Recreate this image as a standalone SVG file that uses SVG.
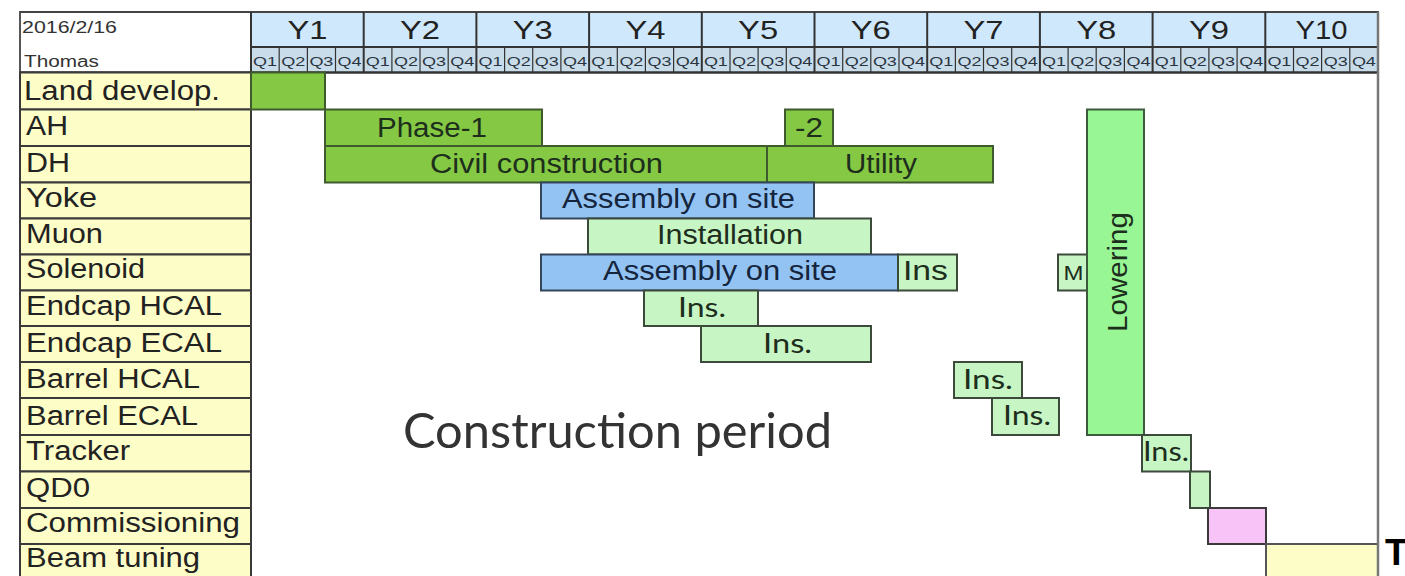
<svg xmlns="http://www.w3.org/2000/svg" width="1405" height="576" viewBox="0 0 1405 576">
  <style>
    .lbl { font-family: "Liberation Sans", Arial, sans-serif; font-size: 27px; fill: #222; }
    .bar-t { font-family: "Liberation Sans", Arial, sans-serif; font-size: 27px; fill: #1d2e1d; text-anchor: middle; }
    .ins-t { font-family: Lato, "Open Sans", sans-serif; font-size: 27px; fill: #1d2e1d; text-anchor: middle; }
    .blue-t { fill: #15253d; }
    .yr { font-family: "Liberation Sans", Arial, sans-serif; font-size: 26px; fill: #222; text-anchor: middle; }
    .qt { font-family: "Liberation Sans", Arial, sans-serif; font-size: 12px; fill: #2a3440; text-anchor: middle; }
    .hdr { font-family: "Liberation Sans", Arial, sans-serif; font-size: 16px; fill: #333; }
    .cell { fill: #fdfdc8; stroke: #3a3a3a; stroke-width: 2; }
    .dk { fill: #84c843; stroke: #3f5a2e; stroke-width: 2; }
    .bl { fill: #93c3f3; stroke: #34465a; stroke-width: 2; }
    .lg { fill: #c8f5c4; stroke: #3c4a3c; stroke-width: 2; }
    .lw { fill: #98f794; stroke: #3c5a3c; stroke-width: 2; }
    .pk { fill: #f8c4f8; stroke: #3a3a3a; stroke-width: 2; }
    .yl { fill: #fdfdc8; stroke: #555; stroke-width: 2; }
    .qline { stroke: #333; stroke-width: 1.2; }
    .yline { stroke: #333; stroke-width: 2; }
  </style>

  <rect x="0" y="0" width="1405" height="576" fill="#ffffff"/>

  <!-- chart frame -->
  <g id="frame">
    <rect x="20" y="12" width="1358" height="570" fill="#ffffff" stroke="#555" stroke-width="2"/>
    <rect x="251" y="12" width="1127" height="35" fill="#cfe8fb"/>
    <rect x="251" y="47" width="1127" height="25" fill="#c8dcea"/>
    <line x1="251" y1="47" x2="1378" y2="47" class="yline"/>
    <line x1="20" y1="72.5" x2="1378" y2="72.5" stroke="#333" stroke-width="2.5"/>
    <line x1="20" y1="12" x2="1378" y2="12" stroke="#444" stroke-width="2"/>
  </g>

  <!-- header: date, author, years, quarters -->
  <g id="header">
    <text class="hdr" x="22" y="33" textLength="95" lengthAdjust="spacingAndGlyphs">2016/2/16</text>
    <text class="hdr" x="24" y="67" textLength="75" lengthAdjust="spacingAndGlyphs">Thomas</text>

    <g id="year-lines">
      <line x1="251" y1="12" x2="251" y2="72" class="yline"/>
      <line x1="363.7" y1="12" x2="363.7" y2="72" class="yline"/>
      <line x1="476.4" y1="12" x2="476.4" y2="72" class="yline"/>
      <line x1="589.1" y1="12" x2="589.1" y2="72" class="yline"/>
      <line x1="701.8" y1="12" x2="701.8" y2="72" class="yline"/>
      <line x1="814.5" y1="12" x2="814.5" y2="72" class="yline"/>
      <line x1="927.2" y1="12" x2="927.2" y2="72" class="yline"/>
      <line x1="1039.9" y1="12" x2="1039.9" y2="72" class="yline"/>
      <line x1="1152.6" y1="12" x2="1152.6" y2="72" class="yline"/>
      <line x1="1265.3" y1="12" x2="1265.3" y2="72" class="yline"/>
    </g>
    <g id="quarter-lines">
      <line x1="279.2" y1="47" x2="279.2" y2="72" class="qline"/>
      <line x1="307.4" y1="47" x2="307.4" y2="72" class="qline"/>
      <line x1="335.5" y1="47" x2="335.5" y2="72" class="qline"/>
      <line x1="391.9" y1="47" x2="391.9" y2="72" class="qline"/>
      <line x1="420.0" y1="47" x2="420.0" y2="72" class="qline"/>
      <line x1="448.2" y1="47" x2="448.2" y2="72" class="qline"/>
      <line x1="504.6" y1="47" x2="504.6" y2="72" class="qline"/>
      <line x1="532.7" y1="47" x2="532.7" y2="72" class="qline"/>
      <line x1="560.9" y1="47" x2="560.9" y2="72" class="qline"/>
      <line x1="617.3" y1="47" x2="617.3" y2="72" class="qline"/>
      <line x1="645.4" y1="47" x2="645.4" y2="72" class="qline"/>
      <line x1="673.6" y1="47" x2="673.6" y2="72" class="qline"/>
      <line x1="730.0" y1="47" x2="730.0" y2="72" class="qline"/>
      <line x1="758.1" y1="47" x2="758.1" y2="72" class="qline"/>
      <line x1="786.3" y1="47" x2="786.3" y2="72" class="qline"/>
      <line x1="842.7" y1="47" x2="842.7" y2="72" class="qline"/>
      <line x1="870.8" y1="47" x2="870.8" y2="72" class="qline"/>
      <line x1="899.0" y1="47" x2="899.0" y2="72" class="qline"/>
      <line x1="955.4" y1="47" x2="955.4" y2="72" class="qline"/>
      <line x1="983.5" y1="47" x2="983.5" y2="72" class="qline"/>
      <line x1="1011.7" y1="47" x2="1011.7" y2="72" class="qline"/>
      <line x1="1068.1" y1="47" x2="1068.1" y2="72" class="qline"/>
      <line x1="1096.2" y1="47" x2="1096.2" y2="72" class="qline"/>
      <line x1="1124.4" y1="47" x2="1124.4" y2="72" class="qline"/>
      <line x1="1180.8" y1="47" x2="1180.8" y2="72" class="qline"/>
      <line x1="1208.9" y1="47" x2="1208.9" y2="72" class="qline"/>
      <line x1="1237.1" y1="47" x2="1237.1" y2="72" class="qline"/>
      <line x1="1293.5" y1="47" x2="1293.5" y2="72" class="qline"/>
      <line x1="1321.6" y1="47" x2="1321.6" y2="72" class="qline"/>
      <line x1="1349.8" y1="47" x2="1349.8" y2="72" class="qline"/>
    </g>

    <g id="years">
      <text class="yr" x="307.4" y="39" textLength="40" lengthAdjust="spacingAndGlyphs">Y1</text>
      <text class="yr" x="420.0" y="39" textLength="40" lengthAdjust="spacingAndGlyphs">Y2</text>
      <text class="yr" x="532.7" y="39" textLength="40" lengthAdjust="spacingAndGlyphs">Y3</text>
      <text class="yr" x="645.4" y="39" textLength="40" lengthAdjust="spacingAndGlyphs">Y4</text>
      <text class="yr" x="758.1" y="39" textLength="40" lengthAdjust="spacingAndGlyphs">Y5</text>
      <text class="yr" x="870.8" y="39" textLength="40" lengthAdjust="spacingAndGlyphs">Y6</text>
      <text class="yr" x="983.5" y="39" textLength="40" lengthAdjust="spacingAndGlyphs">Y7</text>
      <text class="yr" x="1096.2" y="39" textLength="40" lengthAdjust="spacingAndGlyphs">Y8</text>
      <text class="yr" x="1208.9" y="39" textLength="40" lengthAdjust="spacingAndGlyphs">Y9</text>
      <text class="yr" x="1321.6" y="39" textLength="52" lengthAdjust="spacingAndGlyphs">Y10</text>
    </g>

    <g id="quarters">
      <text class="qt" x="265.1" y="66" textLength="24" lengthAdjust="spacingAndGlyphs">Q1</text>
      <text class="qt" x="293.3" y="66" textLength="24" lengthAdjust="spacingAndGlyphs">Q2</text>
      <text class="qt" x="321.4" y="66" textLength="24" lengthAdjust="spacingAndGlyphs">Q3</text>
      <text class="qt" x="349.6" y="66" textLength="24" lengthAdjust="spacingAndGlyphs">Q4</text>
      <text class="qt" x="377.8" y="66" textLength="24" lengthAdjust="spacingAndGlyphs">Q1</text>
      <text class="qt" x="406.0" y="66" textLength="24" lengthAdjust="spacingAndGlyphs">Q2</text>
      <text class="qt" x="434.1" y="66" textLength="24" lengthAdjust="spacingAndGlyphs">Q3</text>
      <text class="qt" x="462.3" y="66" textLength="24" lengthAdjust="spacingAndGlyphs">Q4</text>
      <text class="qt" x="490.5" y="66" textLength="24" lengthAdjust="spacingAndGlyphs">Q1</text>
      <text class="qt" x="518.7" y="66" textLength="24" lengthAdjust="spacingAndGlyphs">Q2</text>
      <text class="qt" x="546.8" y="66" textLength="24" lengthAdjust="spacingAndGlyphs">Q3</text>
      <text class="qt" x="575.0" y="66" textLength="24" lengthAdjust="spacingAndGlyphs">Q4</text>
      <text class="qt" x="603.2" y="66" textLength="24" lengthAdjust="spacingAndGlyphs">Q1</text>
      <text class="qt" x="631.4" y="66" textLength="24" lengthAdjust="spacingAndGlyphs">Q2</text>
      <text class="qt" x="659.5" y="66" textLength="24" lengthAdjust="spacingAndGlyphs">Q3</text>
      <text class="qt" x="687.7" y="66" textLength="24" lengthAdjust="spacingAndGlyphs">Q4</text>
      <text class="qt" x="715.9" y="66" textLength="24" lengthAdjust="spacingAndGlyphs">Q1</text>
      <text class="qt" x="744.1" y="66" textLength="24" lengthAdjust="spacingAndGlyphs">Q2</text>
      <text class="qt" x="772.2" y="66" textLength="24" lengthAdjust="spacingAndGlyphs">Q3</text>
      <text class="qt" x="800.4" y="66" textLength="24" lengthAdjust="spacingAndGlyphs">Q4</text>
      <text class="qt" x="828.6" y="66" textLength="24" lengthAdjust="spacingAndGlyphs">Q1</text>
      <text class="qt" x="856.8" y="66" textLength="24" lengthAdjust="spacingAndGlyphs">Q2</text>
      <text class="qt" x="884.9" y="66" textLength="24" lengthAdjust="spacingAndGlyphs">Q3</text>
      <text class="qt" x="913.1" y="66" textLength="24" lengthAdjust="spacingAndGlyphs">Q4</text>
      <text class="qt" x="941.3" y="66" textLength="24" lengthAdjust="spacingAndGlyphs">Q1</text>
      <text class="qt" x="969.5" y="66" textLength="24" lengthAdjust="spacingAndGlyphs">Q2</text>
      <text class="qt" x="997.6" y="66" textLength="24" lengthAdjust="spacingAndGlyphs">Q3</text>
      <text class="qt" x="1025.8" y="66" textLength="24" lengthAdjust="spacingAndGlyphs">Q4</text>
      <text class="qt" x="1054.0" y="66" textLength="24" lengthAdjust="spacingAndGlyphs">Q1</text>
      <text class="qt" x="1082.2" y="66" textLength="24" lengthAdjust="spacingAndGlyphs">Q2</text>
      <text class="qt" x="1110.3" y="66" textLength="24" lengthAdjust="spacingAndGlyphs">Q3</text>
      <text class="qt" x="1138.5" y="66" textLength="24" lengthAdjust="spacingAndGlyphs">Q4</text>
      <text class="qt" x="1166.7" y="66" textLength="24" lengthAdjust="spacingAndGlyphs">Q1</text>
      <text class="qt" x="1194.9" y="66" textLength="24" lengthAdjust="spacingAndGlyphs">Q2</text>
      <text class="qt" x="1223.0" y="66" textLength="24" lengthAdjust="spacingAndGlyphs">Q3</text>
      <text class="qt" x="1251.2" y="66" textLength="24" lengthAdjust="spacingAndGlyphs">Q4</text>
      <text class="qt" x="1279.4" y="66" textLength="24" lengthAdjust="spacingAndGlyphs">Q1</text>
      <text class="qt" x="1307.6" y="66" textLength="24" lengthAdjust="spacingAndGlyphs">Q2</text>
      <text class="qt" x="1335.7" y="66" textLength="24" lengthAdjust="spacingAndGlyphs">Q3</text>
      <text class="qt" x="1363.9" y="66" textLength="24" lengthAdjust="spacingAndGlyphs">Q4</text>
    </g>
  </g>

  <!-- task name column -->
  <g id="rows">
    <g id="row-land"><rect class="cell" x="20" y="72.5" width="231" height="37"/><text class="lbl" x="24" y="100" textLength="196" lengthAdjust="spacingAndGlyphs">Land develop.</text></g>
    <g id="row-ah"><rect class="cell" x="20" y="109.5" width="231" height="36.5"/><text class="lbl" x="26" y="135" textLength="42" lengthAdjust="spacingAndGlyphs">AH</text></g>
    <g id="row-dh"><rect class="cell" x="20" y="146" width="231" height="36.5"/><text class="lbl" x="26" y="172" textLength="44" lengthAdjust="spacingAndGlyphs">DH</text></g>
    <g id="row-yoke"><rect class="cell" x="20" y="182.5" width="231" height="36"/><text class="lbl" x="26" y="207" textLength="71" lengthAdjust="spacingAndGlyphs">Yoke</text></g>
    <g id="row-muon"><rect class="cell" x="20" y="218.5" width="231" height="36"/><text class="lbl" x="26" y="243" textLength="77" lengthAdjust="spacingAndGlyphs">Muon</text></g>
    <g id="row-solenoid"><rect class="cell" x="20" y="254.5" width="231" height="36"/><text class="lbl" x="26" y="278" textLength="119" lengthAdjust="spacingAndGlyphs">Solenoid</text></g>
    <g id="row-endcap-hcal"><rect class="cell" x="20" y="290.5" width="231" height="35.5"/><text class="lbl" x="26" y="315" textLength="196" lengthAdjust="spacingAndGlyphs">Endcap HCAL</text></g>
    <g id="row-endcap-ecal"><rect class="cell" x="20" y="326" width="231" height="36"/><text class="lbl" x="26" y="352" textLength="196" lengthAdjust="spacingAndGlyphs">Endcap ECAL</text></g>
    <g id="row-barrel-hcal"><rect class="cell" x="20" y="362" width="231" height="36"/><text class="lbl" x="26" y="388" textLength="174" lengthAdjust="spacingAndGlyphs">Barrel HCAL</text></g>
    <g id="row-barrel-ecal"><rect class="cell" x="20" y="398" width="231" height="37"/><text class="lbl" x="26" y="425" textLength="172" lengthAdjust="spacingAndGlyphs">Barrel ECAL</text></g>
    <g id="row-tracker"><rect class="cell" x="20" y="435" width="231" height="36.5"/><text class="lbl" x="26" y="460" textLength="104" lengthAdjust="spacingAndGlyphs">Tracker</text></g>
    <g id="row-qd0"><rect class="cell" x="20" y="471.5" width="231" height="36.5"/><text class="lbl" x="26" y="497" textLength="64" lengthAdjust="spacingAndGlyphs">QD0</text></g>
    <g id="row-commissioning"><rect class="cell" x="20" y="508" width="231" height="36"/><text class="lbl" x="26" y="532" textLength="214" lengthAdjust="spacingAndGlyphs">Commissioning</text></g>
    <g id="row-beam-tuning"><rect class="cell" x="20" y="544" width="231" height="36"/><text class="lbl" x="26" y="567" textLength="174" lengthAdjust="spacingAndGlyphs">Beam tuning</text></g>
  </g>

  <!-- schedule bars -->
  <g id="bars">
    <g id="bar-land"><rect class="dk" x="251" y="72.5" width="74" height="37"/></g>
    <g id="bar-ah-phase1"><rect class="dk" x="325" y="109.5" width="217" height="36.5"/><text class="bar-t" x="432" y="137" textLength="110" lengthAdjust="spacingAndGlyphs">Phase-1</text></g>
    <g id="bar-ah-phase2"><rect class="dk" x="785" y="109.5" width="48" height="36.5"/><text class="bar-t" x="809" y="137" textLength="28" lengthAdjust="spacingAndGlyphs">-2</text></g>
    <g id="bar-dh-civil"><rect class="dk" x="325" y="146" width="442" height="36.5"/><text class="bar-t" x="546.5" y="173" textLength="233" lengthAdjust="spacingAndGlyphs">Civil construction</text></g>
    <g id="bar-dh-utility"><rect class="dk" x="767" y="146" width="226" height="36.5"/><text class="bar-t" x="881" y="173" textLength="72" lengthAdjust="spacingAndGlyphs">Utility</text></g>
    <g id="bar-yoke"><rect class="bl" x="541" y="182.5" width="273" height="36"/><text class="bar-t blue-t" x="678.5" y="208" textLength="233" lengthAdjust="spacingAndGlyphs">Assembly on site</text></g>
    <g id="bar-muon"><rect class="lg" x="588" y="218.5" width="283" height="36"/><text class="bar-t" x="730" y="244" textLength="146" lengthAdjust="spacingAndGlyphs">Installation</text></g>
    <g id="bar-solenoid-asm"><rect class="bl" x="541" y="254.5" width="357" height="36"/><text class="bar-t blue-t" x="720" y="280" textLength="234" lengthAdjust="spacingAndGlyphs">Assembly on site</text></g>
    <g id="bar-solenoid-ins"><rect class="lg" x="898" y="254.5" width="59" height="36"/><text class="bar-t" x="925.5" y="280" textLength="45" lengthAdjust="spacingAndGlyphs">Ins</text></g>
    <g id="bar-m"><rect class="lg" x="1058" y="254.5" width="29" height="36"/><text class="bar-t" x="1073.5" y="280" style="font-size:21px" textLength="20" lengthAdjust="spacingAndGlyphs">M</text></g>
    <g id="bar-lowering"><rect class="lw" x="1087" y="109.5" width="57" height="325.5"/><text class="bar-t" transform="translate(1127,272) rotate(-90)" x="0" y="0" textLength="120" lengthAdjust="spacingAndGlyphs">Lowering</text></g>
    <g id="bar-endcap-hcal"><rect class="lg" x="644" y="290.5" width="114" height="35.5"/><text class="ins-t" x="702" y="317" textLength="48" lengthAdjust="spacingAndGlyphs">Ins.</text></g>
    <g id="bar-endcap-ecal"><rect class="lg" x="701" y="326" width="170" height="36"/><text class="ins-t" x="787.5" y="353" textLength="49" lengthAdjust="spacingAndGlyphs">Ins.</text></g>
    <g id="bar-barrel-hcal"><rect class="lg" x="954" y="362" width="68" height="36"/><text class="ins-t" x="988" y="389" textLength="50" lengthAdjust="spacingAndGlyphs">Ins.</text></g>
    <g id="bar-barrel-ecal"><rect class="lg" x="992" y="398" width="67" height="37"/><text class="ins-t" x="1027" y="425" textLength="48" lengthAdjust="spacingAndGlyphs">Ins.</text></g>
    <g id="bar-tracker"><rect class="lg" x="1142" y="435" width="49" height="36.5"/><text class="ins-t" x="1166" y="461" textLength="46" lengthAdjust="spacingAndGlyphs">Ins.</text></g>
    <g id="bar-qd0"><rect class="lg" x="1190" y="471.5" width="20" height="36.5"/></g>
    <g id="bar-commissioning"><rect class="pk" x="1208" y="508" width="58" height="36"/></g>
    <g id="bar-beam-tuning"><rect class="yl" x="1266" y="544" width="112" height="36"/></g>
  </g>

  <!-- right border redrawn over bars -->
  <line x1="1378" y1="12" x2="1378" y2="576" stroke="#777" stroke-width="2.5"/>

  <text x="403" y="448" font-family="Lato, 'Open Sans', sans-serif" font-size="48" fill="#333" textLength="429" lengthAdjust="spacingAndGlyphs">Construction period</text>
  <text x="1385" y="565" font-family="'Liberation Sans', Arial, sans-serif" font-weight="bold" font-size="37" fill="#000">T</text>
</svg>
